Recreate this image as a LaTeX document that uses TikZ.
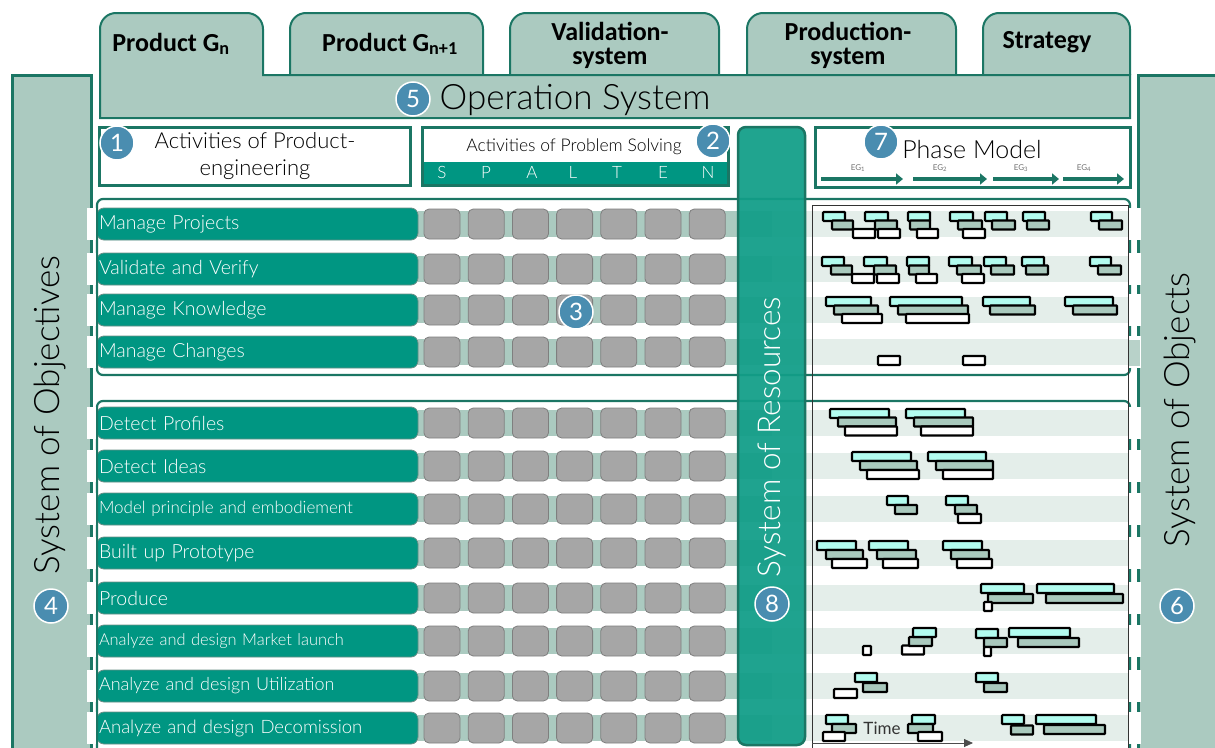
\documentclass[tikz,border=0pt]{standalone}
\usepackage{fontspec}
\setmainfont{Lato Light}
\newfontfamily\regfont{Lato}
\newfontfamily\tabfont{Carlito}
\usetikzlibrary{arrows.meta}
\definecolor{teal1}{HTML}{009682}
\definecolor{tealdk}{HTML}{1B7664}
\definecolor{sage}{HTML}{ABCAC0}
\definecolor{stripL}{HTML}{E4EEEA}
\definecolor{badgec}{HTML}{4A8DB0}
\definecolor{resc}{HTML}{129E88}
\definecolor{gcyan}{HTML}{B2FCEF}
\definecolor{ggrey}{HTML}{A9C9BD}
\definecolor{sqc}{HTML}{A6A6A6}
\definecolor{sqb}{HTML}{7F7F7F}
\definecolor{labb}{HTML}{6A8F87}
\newcommand\tabshape[2]{\filldraw[tabsty] (#1,75) -- (#1,29) arc[start angle=180,end angle=270,radius=16] -- (#2-16,13) arc[start angle=270,end angle=360,radius=16] -- (#2,75);}
\newcommand\gC[3]{\draw[gcs] (#1,#2) rectangle (#3,#2+9);}
\newcommand\gG[3]{\draw[ggs] (#1,#2) rectangle (#3,#2+9);}
\newcommand\gW[3]{\draw[gws] (#1,#2) rectangle (#3,#2+9);}
\newcommand\ganttrowone{%
\gC{823}{212}{845} \gG{832}{220.5}{853} \gW{853}{229}{875}
\gC{865}{212}{888} \gG{875}{220.5}{897} \gW{878}{229}{900}
\gC{908}{212}{930} \gG{910}{220.5}{930} \gW{917}{229}{938}
\gC{950}{212}{973} \gG{958}{220.5}{982} \gW{963}{229}{985}
\gC{985}{212}{1007} \gG{992}{220.5}{1015}
\gC{1023}{212}{1045} \gG{1027}{220.5}{1049}
\gC{1091}{212}{1112} \gG{1099}{220.5}{1122}}
\begin{document}
\begin{tikzpicture}[x=1pt,y=-1pt,
  tabsty/.style={fill=sage, draw=tealdk, line width=2},
  tabtxt/.style={font=\tabfont\bfseries\fontsize{26}{24}\selectfont, align=center, text=black, inner sep=0},
  boxsty/.style={fill=white, draw=tealdk, line width=3},
  badge/.style={circle, fill=badgec, draw=white, line width=1.5, minimum size=34, inner sep=0, text=white, font=\regfont\fontsize{24}{24}\selectfont},
  actbox/.style={rounded corners=7, fill=teal1, draw=labb, line width=0.8, text=white, minimum height=32, text width=317, inner xsep=2, align=left},
  sqsty/.style={rounded corners=5, fill=sqc, draw=sqb, line width=0.8, minimum width=36, minimum height=30, inner sep=0},
  grpbox/.style={draw=tealdk, line width=2.2, rounded corners=6},
  gcs/.style={fill=gcyan, draw=black, line width=2.2, rounded corners=0.8},
  ggs/.style={fill=ggrey, draw=black, line width=2.2, rounded corners=0.8},
  gws/.style={fill=white, draw=black, line width=2.2, rounded corners=0.8},
  phasearrow/.style={draw=tealdk, line width=4, -{Triangle[length=7,width=11]}},
  eglab/.style={text=black!55, font=\regfont\fontsize{8}{8}\selectfont, inner sep=0}
]
\useasboundingbox (0,0) rectangle (1215,747);
\clip (0,0) rectangle (1215,747);
% side systems
\fill[sage] (12,75) rectangle (91,775);
\draw[tealdk, line width=3] (12,775) -- (12,75) -- (91,75) -- (91,775);
\fill[sage] (1138.5,75) rectangle (1225,775);
\draw[tealdk, line width=3] (1225,75) -- (1138.5,75) -- (1138.5,775);
\node[rotate=90, font=\fontsize{35}{35}\selectfont] (objectives) at (50,415) {System of Objectives};
\node[rotate=90, font=\fontsize{35}{35}\selectfont] (objects) at (1180,410) {System of Objects};
% tabs
\tabshape{290}{483}
\tabshape{510}{719}
\tabshape{747}{956}
\tabshape{983}{1130}
\filldraw[tabsty] (100,118) -- (100,29) arc[start angle=180,end angle=270,radius=16] -- (247,13) arc[start angle=270,end angle=360,radius=16] -- (263,75) -- (1130,75) -- (1130,118) -- cycle;
\node[tabtxt] (t1) at (171,44) {Product G\textsubscript{n}};
\node[tabtxt] (t2) at (390,44) {Product G\textsubscript{n+1}};
\node[tabtxt] (t3) at (610,45) {Validation-\\system};
\node[tabtxt] (t4) at (848,45) {Production-\\system};
\node[tabtxt] (t5) at (1047,42) {Strategy};
\node[font=\fontsize{35}{35}\selectfont] (opsys) at (575,100) {Operation System};
% box 1
\draw[boxsty] (99,127) rectangle (410,185);
\node[align=center, font=\fontsize{22}{27}\selectfont] (act1) at (255,156) {Activities of Product-\\engineering};
% box 2
\draw[boxsty] (422,127) rectangle (728,185);
\fill[teal1] (423.5,162) rectangle (726.5,183.5);
\node[font=\fontsize{17.5}{17.5}\selectfont] (act2) at (574,147) {Activities of Problem Solving};
\foreach \lx/\lt [count=\j] in {442/S,486/P,532/A,573/L,617/T,663/E,708/N}
  \node[text=white, font=\fontsize{17}{17}\selectfont] (sp\j) at (\lx,172.5) {\lt};
% box 7
\draw[boxsty] (815,127) rectangle (1130,187);
\node[font=\fontsize{25}{25}\selectfont] (phase) at (972,150) {Phase Model};
\coordinate (e1a) at (821,179); \coordinate (e1b) at (903,179);
\coordinate (e2a) at (913,179); \coordinate (e2b) at (987,179);
\coordinate (e3a) at (993,179); \coordinate (e3b) at (1059,179);
\coordinate (e4a) at (1063,179); \coordinate (e4b) at (1124,179);
\draw[phasearrow] (e1a) -- (e1b);
\draw[phasearrow] (e2a) -- (e2b);
\draw[phasearrow] (e3a) -- (e3b);
\draw[phasearrow] (e4a) -- (e4b);
\node[eglab] (eg1) at (858,168) {EG\textsubscript{1}};
\node[eglab] (eg2) at (940,168) {EG\textsubscript{2}};
\node[eglab] (eg3) at (1021,168) {EG\textsubscript{3}};
\node[eglab] (eg4) at (1084,168) {EG\textsubscript{4}};
% group boxes fill
\fill[white, rounded corners=6] (97,199) rectangle (1130,375);
\fill[white, rounded corners=6] (97,401) rectangle (1130,780);
% rows
\foreach \yc in {224,269,310,352,423,466,509,553,598,641,686,728}{
  \fill[sage] (418,\yc-13) rectangle (772,\yc+13);
  \fill[stripL] (772,\yc-13) rectangle (1128,\yc+13);
}
\foreach \yc/\txt/\fs [count=\k] in {224/Manage Projects/19.5, 269/Validate and Verify/19.5, 310/Manage Knowledge/19.5, 352/Manage Changes/19.5, 423/Detect Profiles/19.5, 466/Detect Ideas/19.5, 509/Model principle and embodiement/17, 553/Built up Prototype/19.5, 598/Produce/19.5, 641/Analyze and design Market launch/16.4, 686/Analyze and design Utilization/18, 728/Analyze and design Decomission/18.5}{
  \node[actbox, font=\fontsize{\fs}{\fs}\selectfont] (lab\k) at (257.5,\yc) {\txt};
  \foreach \i in {0,...,6}
    \node[sqsty] (sq\k-\i) at (442+44.2*\i,\yc) {};
}
% group borders
\draw[grpbox] (97,199) rectangle (1130,375);
\draw[grpbox] (97,401) rectangle (1130,780);
% erasers (dashed look of system borders)
\foreach \yc in {224,269,310,423,466,509,553,598,641,686,728}{
  \fill[white] (86.5,\yc-16) rectangle (95.8,\yc+16);
  \fill[white] (1129,\yc-16) rectangle (1141,\yc+16);
}
\fill[white] (86.5,352-16) rectangle (95.8,352+16);
\fill[white] (1129,352-16) rectangle (1141,352+16);
\fill[sage!85!white] (1129,340) rectangle (1140,366);
% resources
\filldraw[fill=resc, fill opacity=0.94, draw=tealdk, line width=2.5, rounded corners=8] (738,127) rectangle (805,745);
\node[rotate=90, text=white, font=\fontsize{31.5}{31.5}\selectfont] (resources) at (772,437) {System of Resources};
% gantt frame
\draw[black!80, line width=1] (812,760) -- (812,205) -- (1128,205) -- (1128,760);
\ganttrowone
\begin{scope}[shift={(-1,45)}]\ganttrowone\end{scope}
\gC{826}{297}{871} \gG{834}{305.5}{878} \gW{842}{314}{882}
\gC{890}{297}{962} \gG{898}{305.5}{968} \gW{906}{314}{969}
\gC{983}{297}{1030} \gG{990}{305.5}{1035}
\gC{1065}{297}{1113} \gG{1073}{305.5}{1117}
\gW{878}{356}{900} \gW{963}{356}{985}
\gC{830}{409}{889} \gG{838}{417.5}{896} \gW{845}{426.5}{897}
\gC{906}{409}{965} \gG{914}{417.5}{973} \gW{921}{426.5}{973}
\gC{852}{452}{911} \gG{860}{461}{917} \gW{867}{470}{919}
\gC{928}{452}{986} \gG{936}{461}{993} \gW{943}{470}{993}
\gC{887}{496}{908} \gG{895}{505}{917}
\gC{946}{496}{968} \gG{955}{505}{977} \gW{958}{514}{981}
\gC{817}{541}{856} \gG{826}{550}{863} \gW{832}{559}{867}
\gC{869}{541}{908} \gG{877}{550}{916} \gW{883}{559}{918}
\gC{943}{541}{982} \gG{951}{550}{989} \gW{957}{559}{992}
\gC{981}{584}{1024} \gG{988}{594}{1033} \draw[gws] (984,602) rectangle (992,611);
\gC{1037}{584}{1114} \gG{1046}{594}{1123}
\draw[gws] (863,646) rectangle (871,655);
\gW{902}{645.5}{924} \gG{909}{637}{932} \gC{913}{628}{936}
\gC{976}{629}{998} \gG{984}{638}{1007} \draw[gws] (984,647) rectangle (991,656);
\gC{1009}{628}{1070} \gG{1018}{638}{1079}
\gC{855}{673}{877} \gG{863}{683}{887} \gW{834}{689}{857}
\gC{976}{673}{998} \gG{984}{683}{1007}
\gC{826}{715}{848} \gG{832}{724}{856} \gW{823}{732}{845}
\gC{912}{715}{935} \gG{908}{724}{933} \gW{918}{732}{942}
\gC{1002}{715}{1024} \gG{1011}{725.5}{1033}
\gC{1036}{715}{1096} \gG{1044}{725}{1105}
\node[text=black!80, font=\regfont\fontsize{17}{17}\selectfont, inner sep=0] (time) at (882,728) {Time};
\coordinate (ta) at (812,743); \coordinate (tb) at (973,743);
\draw[black!70, line width=0.8, -{Triangle[length=9,width=8]}] (ta) -- (tb);
% badges
\node[badge] (b1) at (117,143) {1};
\node[badge] (b2) at (713,141) {2};
\node[badge] (b3) at (576,312) {3};
\node[badge] (b4) at (51,606) {4};
\node[badge] (b5) at (413,99) {5};
\node[badge] (b6) at (1177,606) {6};
\node[badge] (b7) at (881,142) {7};
\node[badge] (b8) at (772,604) {8};
\end{tikzpicture}
\end{document}
